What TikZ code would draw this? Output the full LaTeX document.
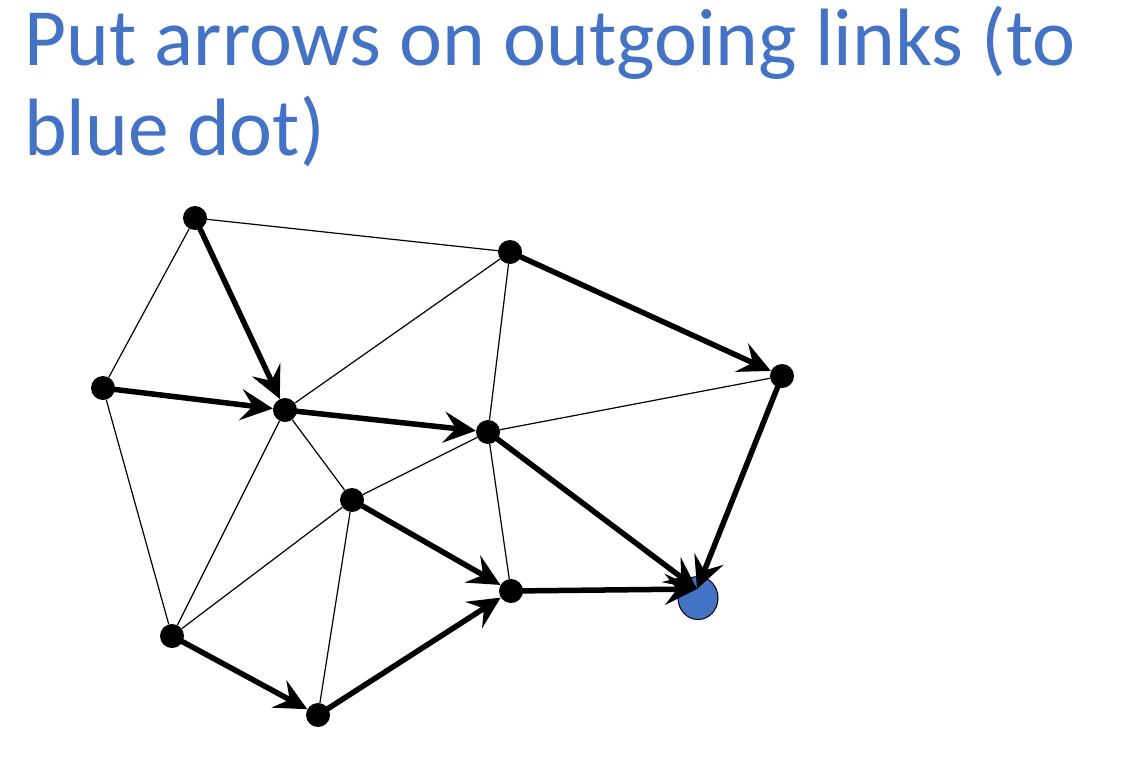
\documentclass[tikz,border=0pt]{standalone}
\usepackage{fontspec}
\setmainfont{Carlito}
\usetikzlibrary{arrows.meta,backgrounds,shapes.geometric}
\definecolor{titleblue}{HTML}{4472C4}
\tikzset{
  dot/.style={circle,fill=black,inner sep=0pt,minimum size=24pt},
  bluedot/.style={ellipse,fill=titleblue,draw=black,line width=1pt,inner sep=0pt,minimum width=40pt,minimum height=43pt},
  thinlink/.style={line width=1.2pt},
  outlink/.style={line width=5.5pt,-{Stealth[length=32pt,width=31pt,inset=12pt]}},
  titletext/.style={anchor=base west,inner sep=0pt,text=titleblue,font=\fontsize{81.4}{88}\selectfont}
}
\begin{document}
\begin{tikzpicture}[x=1pt,y=-1pt]
\useasboundingbox (0,0) rectangle (1126,760);
\node[titletext] (t1) at (24,66) {Put arrows on outgoing links (to};
\node[titletext] (t2) at (24,155) {blue dot)};
\node[dot] (a) at (195,218) {};
\node[dot] (b) at (510,252) {};
\node[dot] (c) at (103,388) {};
\node[dot] (d) at (285,410) {};
\node[dot] (e) at (488,432) {};
\node[dot] (f) at (782,376) {};
\node[dot] (g) at (352,500) {};
\node[dot] (h) at (511,591) {};
\node[bluedot] (i) at (698,598) {};
\node[dot] (j) at (172,636) {};
\node[dot] (k) at (318,715) {};
\coordinate (iin) at (697,589);
\begin{scope}[on background layer]
\draw[thinlink] (a) -- (b);
\draw[thinlink] (a) -- (c);
\draw[thinlink] (d) -- (b);
\draw[thinlink] (b) -- (e);
\draw[thinlink] (e) -- (f);
\draw[thinlink] (c) -- (j);
\draw[thinlink] (d) -- (j);
\draw[thinlink] (d) -- (g);
\draw[thinlink] (g) -- (e);
\draw[thinlink] (g) -- (j);
\draw[thinlink] (g) -- (k);
\draw[thinlink] (e) -- (h);
\draw[outlink] (a.center) -- (d);
\draw[outlink] (c.center) -- (d);
\draw[outlink] (d.center) -- (e);
\draw[outlink] (b.center) -- (f);
\draw[outlink] (g.center) -- (h);
\draw[outlink] (j.center) -- (k);
\draw[outlink] (k.center) -- (h);
\end{scope}
\draw[outlink] (f.center) -- (iin);
\draw[outlink] (e.center) -- (iin);
\draw[outlink] (h.center) -- (iin);
\end{tikzpicture}
\end{document}
